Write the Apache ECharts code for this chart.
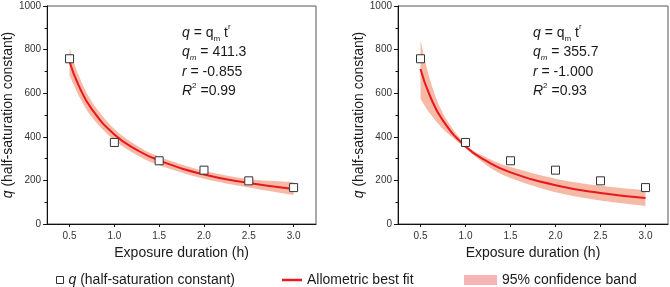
<!DOCTYPE html>
<html>
<head>
<meta charset="utf-8">
<script src="https://cdn.jsdelivr.net/npm/echarts@6/dist/echarts.min.js"></script>
<style>
  html, body { margin: 0; padding: 0; background: #fff; }
  #chart { width: 670px; height: 287px; }
</style>
</head>
<body>
<div id="chart"></div>
<script>
// observed points (same in both panels)
const durations = [0.5, 1.0, 1.5, 2.0, 2.5, 3.0];
const qObserved = [758, 374, 290, 247, 198, 167];

// curve sample positions
const curveT = [0.5, 0.6, 0.75, 1.0, 1.25, 1.5, 2.0, 2.5, 3.0];

// left panel: fit + band
const fitLeft = [744, 637, 526, 411, 340, 291, 227, 188, 161];
const bandLeftUpper = [805, 683, 560, 436, 360, 309, 244, 206, 192];
const bandLeftLower = [682, 591, 490, 384, 317, 270, 208, 168, 133];

// right panel: fit + band
const fitRight = [711, 593, 474, 356, 285, 237, 178, 142, 119];
const bandRightUpper = [843, 670, 507, 365, 302, 261, 208, 175, 154];
const bandRightLower = [575, 510, 436, 347, 265, 211, 146, 108, 83];

const xTicks = [0.5, 1.0, 1.5, 2.0, 2.5, 3.0];
const statsLeft = ['411.3', '-0.855', '0.99'];
const statsRight = ['355.7', '-1.000', '0.93'];

const FONT = 'Liberation Sans, Arial, sans-serif';
const RED = '#e8181e';
const BAND = '#f6b9a6';
const NAME_SCATTER = 'q (half-saturation constant)';
const NAME_FIT = 'Allometric best fit';
const NAME_BAND = '95% confidence band';

const pairs = (xs, ys) => xs.map((x, i) => [x, ys[i]]);

// catmull-rom through pixel points -> bezier segments
function curveThrough(pts) {
  let d = '';
  for (let i = 0; i < pts.length - 1; i++) {
    const p0 = pts[i - 1] || pts[i], p1 = pts[i], p2 = pts[i + 1], p3 = pts[i + 2] || p2;
    const c1 = [p1[0] + (p2[0] - p0[0]) / 6, p1[1] + (p2[1] - p0[1]) / 6];
    const c2 = [p2[0] - (p3[0] - p1[0]) / 6, p2[1] - (p3[1] - p1[1]) / 6];
    d += ' C' + c1.join(',') + ' ' + c2.join(',') + ' ' + p2.join(',');
  }
  return d;
}

const chart = echarts.init(document.getElementById('chart'));

function xAxisFor(idx) {
  return {
    type: 'value', gridIndex: idx, min: 0.25, max: 3.25, z: 10,
    name: 'Exposure duration (h)', nameLocation: 'middle', nameGap: 22,
    nameTextStyle: { fontFamily: FONT, fontSize: 14, color: '#1a1a1a' },
    axisLine: { lineStyle: { color: '#111', width: 1 } },
    axisTick: { customValues: xTicks, length: 3, lineStyle: { color: '#111' } },
    axisLabel: {
      customValues: xTicks, margin: 7, fontFamily: FONT, fontSize: 10, color: '#333',
      formatter: v => v.toFixed(1)
    },
    splitLine: { show: false }
  };
}

function yAxisFor(idx) {
  return {
    type: 'value', gridIndex: idx, min: 0, max: 1000, interval: 200, z: 10,
    name: '{i|q} (half-saturation constant)', nameLocation: 'middle', nameGap: 28,
    nameTextStyle: {
      fontFamily: FONT, fontSize: 14, color: '#1a1a1a',
      rich: { i: { fontFamily: FONT, fontSize: 14, fontStyle: 'italic', color: '#1a1a1a' } }
    },
    axisLine: { show: true, lineStyle: { color: '#111', width: 1 } },
    axisTick: { length: 4, lineStyle: { color: '#111' } },
    minorTick: { show: true, splitNumber: 2, length: 2.5, lineStyle: { color: '#111' } },
    axisLabel: { margin: 6, fontFamily: FONT, fontSize: 10, color: '#333', formatter: v => String(v) },
    splitLine: { show: false }
  };
}

function panelSeries(idx, fit, upper, lower) {
  return [
    {
      name: NAME_BAND, type: 'custom', xAxisIndex: idx, yAxisIndex: idx, z: 1, silent: true,
      itemStyle: { color: BAND },
      data: curveT.map((t, i) => [t, upper[i], lower[i]]),
      renderItem: (params, api) => {
        if (params.dataIndex !== 0) return null;
        const top = curveT.map((t, i) => api.coord([t, upper[i]]));
        const bot = curveT.map((t, i) => api.coord([t, lower[i]])).reverse();
        const d = 'M' + top[0].join(',') + curveThrough(top) +
          ' L' + bot[0].join(',') + curveThrough(bot) + ' Z';
        return { type: 'path', shape: { pathData: d }, style: { fill: BAND, stroke: null } };
      }
    },
    {
      name: NAME_FIT, type: 'line', xAxisIndex: idx, yAxisIndex: idx, z: 3,
      smooth: true, symbol: 'none', data: pairs(curveT, fit),
      lineStyle: { color: RED, width: 2 }, itemStyle: { color: RED }
    },
    {
      name: NAME_SCATTER, type: 'scatter', xAxisIndex: idx, yAxisIndex: idx, z: 4,
      symbol: 'rect', symbolSize: 8, data: pairs(durations, qObserved),
      itemStyle: { color: '#fff', borderColor: '#333', borderWidth: 1, opacity: 1 }
    }
  ];
}

const annRich = {
  i: { fontFamily: FONT, fontSize: 14, fontStyle: 'italic', lineHeight: 19.5, color: '#1a1a1a' },
  sub: { fontFamily: FONT, fontSize: 8, lineHeight: 9, verticalAlign: 'bottom', color: '#1a1a1a' },
  subi: { fontFamily: FONT, fontSize: 8, fontStyle: 'italic', lineHeight: 9, verticalAlign: 'bottom', color: '#1a1a1a' },
  sup: { fontFamily: FONT, fontSize: 8, lineHeight: 9, verticalAlign: 'top', color: '#1a1a1a' }
};

function annotation(x, stats) {
  return {
    type: 'text', x: x, y: 23, z: 20,
    style: {
      text: [
        '{i|q} = q{sub|m} t{sup|r}',
        '{i|q}{subi|m} = ' + stats[0],
        '{i|r} = ' + stats[1],
        '{i|R}{sup|2} =' + stats[2]
      ].join('\n'),
      font: '14px ' + FONT, fill: '#1a1a1a', lineHeight: 19.5, rich: annRich
    }
  };
}

const legendText = { fontFamily: FONT, fontSize: 14, color: '#1a1a1a', lineHeight: 14 };

chart.setOption({
  animation: false,
  backgroundColor: '#fff',
  grid: [
    { left: 46, top: 6, width: 270, height: 218, show: true, borderColor: '#555', borderWidth: 1 },
    { left: 398, top: 6, width: 270, height: 218, show: true, borderColor: '#555', borderWidth: 1 }
  ],
  xAxis: [xAxisFor(0), xAxisFor(1)],
  yAxis: [yAxisFor(0), yAxisFor(1)],
  legend: [
    {
      left: 51, top: 268, itemWidth: 7, itemHeight: 7, selectedMode: false,
      data: [{ name: NAME_SCATTER, icon: 'rect',
        itemStyle: { color: '#fff', borderColor: '#333', borderWidth: 1 } }],
      formatter: () => '{i|q} (half-saturation constant)',
      textStyle: Object.assign({}, legendText, {
        rich: { i: { fontFamily: FONT, fontSize: 14, fontStyle: 'italic', color: '#1a1a1a' } }
      })
    },
    {
      left: 277, top: 268, itemWidth: 20, itemHeight: 2.5, selectedMode: false,
      data: [{ name: NAME_FIT, icon: 'rect', itemStyle: { color: RED } }],
      textStyle: legendText
    },
    {
      left: 459, top: 268, itemWidth: 33, itemHeight: 10, selectedMode: false,
      data: [{ name: NAME_BAND, icon: 'rect', itemStyle: { color: '#f8b4b4', borderWidth: 0 } }],
      textStyle: legendText
    }
  ],
  graphic: [annotation(182, statsLeft), annotation(533, statsRight)],
  series: [].concat(
    panelSeries(0, fitLeft, bandLeftUpper, bandLeftLower),
    panelSeries(1, fitRight, bandRightUpper, bandRightLower)
  )
});
</script>
</body>
</html>
